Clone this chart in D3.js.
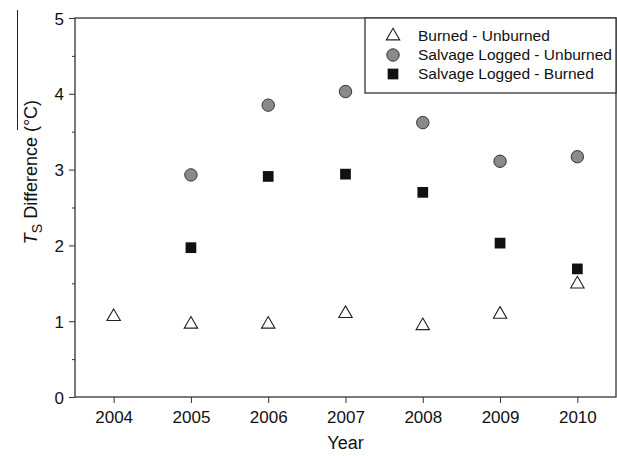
<!DOCTYPE html>
<html>
<head>
<meta charset="utf-8">
<script src="https://cdnjs.cloudflare.com/ajax/libs/d3/7.8.5/d3.min.js"></script>
<style>
  body { margin: 0; background: #fff; }
  text { font-family: "Liberation Sans", Arial, sans-serif; fill: #111; }
</style>
</head>
<body>
<script>
var years = [2004, 2005, 2006, 2007, 2008, 2009, 2010];
var burnedUnburned = [1.06, 0.96, 0.96, 1.10, 0.94, 1.09, 1.49];
var salvageUnburned = [null, 2.93, 3.85, 4.03, 3.62, 3.11, 3.17];
var salvageBurned = [null, 1.97, 2.91, 2.94, 2.70, 2.03, 1.69];
var legendLabels = ["Burned - Unburned", "Salvage Logged - Unburned", "Salvage Logged - Burned"];
var yTicks = [0, 1, 2, 3, 4, 5];

var margin = {top: 18, right: 1, bottom: 59, left: 75},
    width = 617 - margin.left - margin.right,
    height = 456 - margin.top - margin.bottom;

var svg = d3.select("body").append("svg")
    .attr("width", 617)
    .attr("height", 456);

var g = svg.append("g")
    .attr("transform", "translate(" + margin.left + "," + margin.top + ")");

var x = d3.scaleLinear().domain([2003.5, 2010.5]).range([0, width]);
var y = d3.scaleLinear().domain([0, 5]).range([height, 0]);

// frame
g.append("rect")
    .attr("width", width)
    .attr("height", height)
    .attr("fill", "none")
    .attr("stroke", "#333")
    .attr("stroke-width", 1.3);

// minor y ticks
g.append("g")
    .call(d3.axisLeft(y).tickValues(d3.range(0.5, 5, 1)).tickSize(3).tickFormat(""))
    .call(function(a) { a.select(".domain").remove(); })
    .selectAll("line").attr("stroke", "#333");

var yAxis = g.append("g")
    .call(d3.axisLeft(y).tickValues(yTicks).tickSize(6).tickPadding(5).tickFormat(d3.format("d")));
yAxis.select(".domain").remove();
yAxis.selectAll("line").attr("stroke", "#333");
yAxis.selectAll("text").style("font-size", "17px").attr("dy", "0.36em")
    .style("font-family", "Liberation Sans, Arial, sans-serif");

var xAxis = g.append("g")
    .attr("transform", "translate(0," + height + ")")
    .call(d3.axisBottom(x).tickValues(years).tickSize(6).tickPadding(8).tickFormat(d3.format("d")));
xAxis.select(".domain").remove();
xAxis.selectAll("line").attr("stroke", "#333");
xAxis.selectAll("text").style("font-size", "17px")
    .style("font-family", "Liberation Sans, Arial, sans-serif");

// axis titles
svg.append("text")
    .attr("x", margin.left + width / 2)
    .attr("y", 449)
    .attr("text-anchor", "middle")
    .style("font-size", "18px")
    .text("Year");

var yt = svg.append("text")
    .attr("transform", "translate(37,172) rotate(-90)")
    .attr("text-anchor", "middle")
    .style("font-size", "18px");
yt.append("tspan").style("font-style", "italic").text("T");
yt.append("tspan").attr("dy", 5).style("font-size", "14px").text("S");
yt.append("tspan").attr("dy", -5).text(" Difference (°C)");

// thin line at left edge of reference image
svg.append("line")
    .attr("x1", 17.5).attr("x2", 17.5)
    .attr("y1", 10).attr("y2", 130)
    .attr("stroke", "#222").attr("stroke-width", 1);

var tri = d3.symbol().type(d3.symbolTriangle).size(78);
var sq = d3.symbol().type(d3.symbolSquare).size(115);

function pts(vals) {
    return years.map(function(yr, i) { return {x: yr, v: vals[i]}; })
        .filter(function(d) { return d.v != null; });
}

g.selectAll(".bu").data(pts(burnedUnburned)).enter().append("path")
    .attr("d", tri)
    .attr("transform", function(d) { return "translate(" + x(d.x) + "," + y(d.v) + ")"; })
    .attr("fill", "#fff").attr("stroke", "#222").attr("stroke-width", 1.1);

g.selectAll(".su").data(pts(salvageUnburned)).enter().append("circle")
    .attr("cx", function(d) { return x(d.x); })
    .attr("cy", function(d) { return y(d.v); })
    .attr("r", 6.2)
    .attr("fill", "#8a8a8a").attr("stroke", "#333").attr("stroke-width", 1);

g.selectAll(".sb").data(pts(salvageBurned)).enter().append("path")
    .attr("d", sq)
    .attr("transform", function(d) { return "translate(" + x(d.x) + "," + y(d.v) + ")"; })
    .attr("fill", "#111");

// legend
var lg = g.append("g").attr("transform", "translate(290,0)");
lg.append("rect")
    .attr("width", width - 290)
    .attr("height", 75)
    .attr("fill", "#fff")
    .attr("stroke", "#333")
    .attr("stroke-width", 1.3);

var items = lg.selectAll(".item").data(legendLabels).enter().append("g")
    .attr("transform", function(d, i) { return "translate(0," + (18 + i * 19) + ")"; });
items.append("text")
    .attr("x", 53)
    .attr("dy", "0.35em")
    .style("font-size", "15.5px")
    .text(function(d) { return d; });
items.each(function(d, i) {
    var it = d3.select(this);
    if (i === 0) {
        it.append("path").attr("d", tri).attr("transform", "translate(28,0)")
            .attr("fill", "#fff").attr("stroke", "#222").attr("stroke-width", 1.1);
    } else if (i === 1) {
        it.append("circle").attr("cx", 28).attr("r", 6.2)
            .attr("fill", "#8a8a8a").attr("stroke", "#333");
    } else {
        it.append("path").attr("d", sq).attr("transform", "translate(28,0)").attr("fill", "#111");
    }
});
</script>
</body>
</html>
